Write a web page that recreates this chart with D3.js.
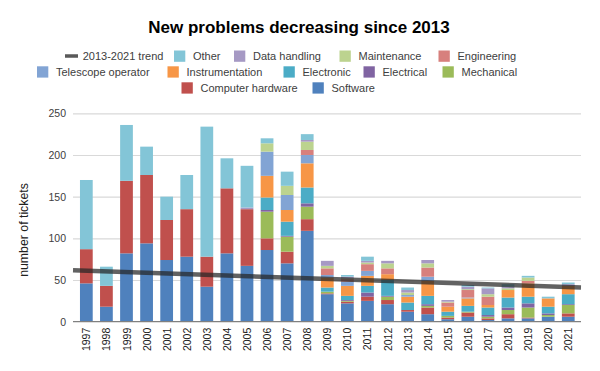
<!DOCTYPE html>
<html><head><meta charset="utf-8">
<script src="https://cdn.jsdelivr.net/npm/d3@7"></script>
<style>body{margin:0;background:#fff;} svg{display:block;font-family:"Liberation Sans",Arial,sans-serif;}</style>
</head><body>
<script>
const years = ["1997","1998","1999","2000","2001","2002","2003","2004","2005","2006","2007","2008","2009","2010","2011","2012","2013","2014","2015","2016","2017","2018","2019","2020","2021"];
const software          = [46,18,82,94,74,78,42,82,67,86,70,109,33,22,25,21,12,9,3,6,2,4,4,6,6];
const computerHardware  = [41,25,87,82,48,57,36,78,68,14,14,14,1,2,5,5,2,8,2,5,2,5,1,0,4];
const mechanical        = [0,0,0,0,0,0,0,0,0,32,18,15,2,1,0,4,0,2,2,1,2,5,12,2,10];
const electrical        = [0,0,0,0,0,0,0,0,0,2,1,4,0,1,5,1,0,2,0,0,2,3,5,2,1];
const electronic        = [0,0,0,0,0,0,0,0,0,15,17,19,5,5,8,19,9,10,5,7,9,12,8,8,12];
const instrumentation   = [0,0,0,0,0,0,0,0,0,26,14,29,12,12,12,7,7,18,6,9,3,9,16,10,10];
const telescopeOperator = [0,0,0,0,0,0,0,0,0,29,18,10,3,5,6,0,2,5,0,1,0,0,0,0,0];
const engineering       = [0,0,0,0,0,0,0,0,0,0,0,6,8,3,8,7,0,11,5,9,10,0,3,0,0];
const maintenance       = [0,0,0,0,0,0,0,0,0,10,11,10,3,1,2,6,3,5,1,1,3,2,4,0,0];
const dataHandling      = [0,0,0,0,0,0,0,0,2,0,0,2,6,2,2,3,3,4,2,3,7,2,0,0,2];
const other             = [83,23,67,34,28,41,156,36,50,6,17,7,0,2,5,0,3,0,0,2,1,3,2,2,2];
const yTicks = [0,50,100,150,200,250];
const trendFrom = "2013", trendTo = "2021";

const seriesNames = ["Software","Computer hardware","Mechanical","Electrical","Electronic","Instrumentation","Telescope operator","Engineering","Maintenance","Data handling","Other"];
const seriesValues = [software,computerHardware,mechanical,electrical,electronic,instrumentation,telescopeOperator,engineering,maintenance,dataHandling,other];
const colors = {"Software":"#4F81BD","Computer hardware":"#C0504D","Mechanical":"#9BBB59","Electrical":"#8064A2","Electronic":"#4BACC6","Instrumentation":"#F79646","Telescope operator":"#82A4D4","Engineering":"#D7807D","Maintenance":"#BCD38F","Data handling":"#A699C4","Other":"#83C5D7"};

const rows = years.map((yr,i)=>{const o={year:yr}; seriesNames.forEach((s,k)=>o[s]=seriesValues[k][i]); return o;});
const stacked = d3.stack().keys(seriesNames)(rows);

const W=600,H=371;
const svg = d3.select("body").append("svg").attr("width",W).attr("height",H);
const x = d3.scaleBand().domain(years).range([76.3,578.3]).paddingInner(0.365).paddingOuter(0.1825);
const y = d3.scaleLinear().domain([0,250]).range([321.7,113.3]);
const gridL=73, gridR=581;

// gridlines + y labels
const yAxis = d3.axisLeft(y).tickValues(yTicks).tickSize(-(gridR-gridL)).tickPadding(7);
const gy = svg.append("g").attr("transform",`translate(${gridL},0)`).call(yAxis);
gy.select(".domain").remove();
gy.selectAll(".tick line").attr("stroke","#D9D9D9").attr("stroke-width",1.2);
gy.selectAll(".tick text").attr("font-size","10.5px").attr("fill","#404040").attr("font-family","Liberation Sans, Arial, sans-serif");
gy.selectAll(".tick").filter(d=>d===0).select("line").remove();

// bars
svg.append("g").selectAll("g").data(stacked).join("g").attr("fill",d=>colors[d.key])
  .selectAll("rect").data(d=>d).join("rect")
  .attr("x",d=>x(d.data.year)).attr("width",x.bandwidth())
  .attr("y",d=>y(d[1])).attr("height",d=>Math.max(0,y(d[0])-y(d[1])));

// x axis
const xAxis = d3.axisBottom(x).tickSize(0).tickPadding(0);
const gx = svg.append("g").attr("transform",`translate(0,${y(0)})`).call(xAxis);
gx.select(".domain").remove();
svg.append("line").attr("x1",gridL).attr("x2",gridR).attr("y1",y(0)).attr("y2",y(0)).attr("stroke","#808080").attr("stroke-width",1.3);
gx.selectAll(".tick text").attr("font-size","10.5px").attr("fill","#202020").attr("font-family","Liberation Sans, Arial, sans-serif")
  .attr("transform","rotate(-90)").attr("text-anchor","end").attr("dy","0").attr("dominant-baseline","central").attr("x",-6).attr("y",0);

// trend (linear regression on totals trendFrom..trendTo)
const totals = rows.map(r=>seriesNames.reduce((a,s)=>a+r[s],0));
const i0 = years.indexOf(trendFrom), i1 = years.indexOf(trendTo);
const xs=[],ys=[]; for(let i=i0;i<=i1;i++){xs.push(i);ys.push(totals[i]);}
const mx=d3.mean(xs), my=d3.mean(ys);
const slope = d3.sum(xs.map((v,k)=>(v-mx)*(ys[k]-my)))/d3.sum(xs.map(v=>(v-mx)*(v-mx)));
const icpt = my - slope*mx;
const step = x.step();
const idxAt = px => (px - (x(years[0])+x.bandwidth()/2))/step;
const trendPts = [gridL, gridR].map(px=>[px, y(icpt+slope*idxAt(px))]);
svg.append("path").attr("d",d3.line()(trendPts)).attr("stroke","#262626").attr("stroke-opacity",0.72).attr("stroke-width",4.5).attr("fill","none");

// y title
svg.append("text").attr("transform","translate(24,230) rotate(-90)").attr("text-anchor","middle").attr("dominant-baseline","central")
  .attr("font-size","12.3px").attr("fill","#202020").text("number of tickets");

// title
svg.append("text").attr("x",299).attr("y",33).attr("text-anchor","middle").attr("font-size","17px").attr("font-weight","bold").attr("fill","#000").text("New problems decreasing since 2013");

// legend
const legendLayout = [
  {name:"2013-2021 trend",row:0,x:65,line:true},
  {name:"Other",row:0,x:174},{name:"Data handling",row:0,x:234},{name:"Maintenance",row:0,x:339.5},{name:"Engineering",row:0,x:438.5},
  {name:"Telescope operator",row:1,x:37},{name:"Instrumentation",row:1,x:167.5},{name:"Electronic",row:1,x:283.5},{name:"Electrical",row:1,x:363.5},{name:"Mechanical",row:1,x:442.5},
  {name:"Computer hardware",row:2,x:181.5},{name:"Software",row:2,x:312.5}
];
const rowY=[56,71.8,87.8];
const lg = svg.append("g").attr("font-size","11px").attr("fill","#404040");
legendLayout.forEach(it=>{
  const cy=rowY[it.row];
  if(it.line){
    lg.append("line").attr("x1",it.x).attr("x2",it.x+13).attr("y1",cy).attr("y2",cy).attr("stroke","#595959").attr("stroke-width",3.5);
    lg.append("text").attr("x",it.x+17.7).attr("y",cy).attr("dominant-baseline","central").text(it.name);
  } else {
    lg.append("rect").attr("x",it.x).attr("y",cy-5.5).attr("width",11.3).attr("height",11.3).attr("fill",colors[it.name]);
    lg.append("text").attr("x",it.x+19).attr("y",cy).attr("dominant-baseline","central").text(it.name);
  }
});
</script>
</body></html>
